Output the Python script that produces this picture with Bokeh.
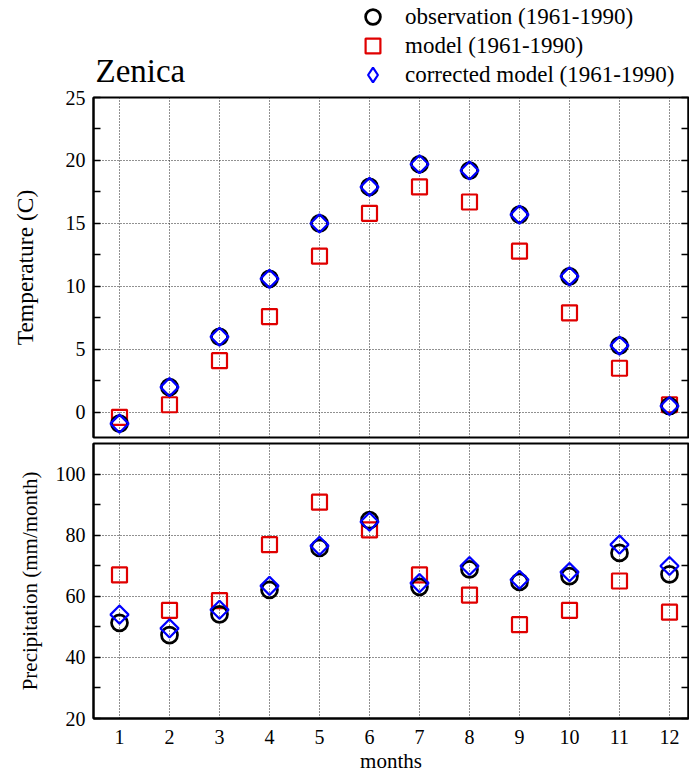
from bokeh.plotting import figure
from bokeh.layouts import column
from bokeh.models import (FixedTicker, LinearAxis, Legend, LegendItem, ColumnDataSource,
                          Range1d, Label, CustomJSTickFormatter)
from bokeh.embed import file_html
from bokeh.resources import INLINE
import numpy as np

# ---------------- data ----------------
months = [1, 2, 3, 4, 5, 6, 7, 8, 9, 10, 11, 12]
temp_obs = [-0.9, 2.0, 6.0, 10.6, 15.0, 17.9, 19.7, 19.2, 15.7, 10.8, 5.3, 0.5]
temp_model = [-0.4, 0.6, 4.1, 7.6, 12.4, 15.8, 17.9, 16.7, 12.8, 7.9, 3.5, 0.6]
temp_corr = [-0.9, 2.0, 6.0, 10.6, 15.0, 17.9, 19.7, 19.2, 15.7, 10.8, 5.3, 0.5]

prec_obs = [51.3, 47.3, 54.1, 62.1, 75.8, 84.9, 63.1, 68.8, 64.7, 66.6, 74.2, 67.2]
prec_model = [67.0, 55.4, 58.6, 76.9, 90.8, 81.7, 67.0, 60.4, 50.7, 55.4, 65.0, 54.8]
prec_corr = [54.0, 49.5, 55.6, 63.4, 76.5, 84.4, 64.3, 69.9, 65.4, 67.9, 76.9, 69.9]

temp_ticks = [0, 5, 10, 15, 20, 25]
temp_minor = [-2.5, 2.5, 7.5, 12.5, 17.5, 22.5]
prec_ticks = [20, 40, 60, 80, 100]
prec_minor = [30, 50, 70, 90]

labels = ["observation (1961-1990)", "model (1961-1990)", "corrected model (1961-1990)"]
station = "Zenica"

SERIF = "Liberation Serif"
RED = "#e00000"
BLUE = "#0000ff"
W = 689
HEAD_H = 95
OVERLAP = 10
BL, BR = 93, 1
XR = (0.48, 12.38)

MARK = dict(
    model=dict(marker="square", size=15, fill_color=None, line_color=RED, line_width=2.2),
    obs=dict(marker="circle", size=16, fill_color=None, line_color="black", line_width=2.7),
    corr=dict(marker="square", angle=np.pi / 4, size=12.8, fill_color=None,
              line_color=BLUE, line_width=2.2),
)
LEG_MARK = dict(
    obs=dict(marker="circle", fill_color=None, line_color="black", line_width=2.7),
    model=dict(marker="square", fill_color=None, line_color=RED, line_width=2.2),
    corr=dict(marker="diamond", fill_color=None, line_color=BLUE, line_width=2.2),
)


def style(p, yticks, yminor, show_x):
    p.outline_line_color = "black"
    p.outline_line_width = 2
    p.background_fill_color = "white"
    p.border_fill_color = "white"
    xt = FixedTicker(ticks=months, minor_ticks=[])
    yt = FixedTicker(ticks=yticks, minor_ticks=yminor)
    p.xaxis.ticker = xt
    p.yaxis.ticker = yt
    for g in (p.xgrid, p.ygrid):
        g.grid_line_color = "#222222"
        g.grid_line_dash = "1 2"
        g.grid_line_width = 1
    ax = p.yaxis[0]
    ax.major_tick_in = 7
    ax.major_tick_out = 0
    ax.minor_tick_in = 7
    ax.minor_tick_out = 0
    ax.major_tick_line_width = 1.5
    ax.minor_tick_line_width = 1.5
    ax.axis_line_color = "black"
    ax.axis_line_width = 2
    ax.major_label_text_font = SERIF
    ax.major_label_text_font_size = "20px"
    ax.major_label_text_color = "black"
    ax.major_label_standoff = 8
    ax.axis_label_text_font = SERIF
    ax.axis_label_text_font_style = "normal"
    ax.axis_label_text_color = "black"
    # mirrored right axis with inward ticks, no labels
    ra = LinearAxis(ticker=yt, formatter=CustomJSTickFormatter(code="return ''"),
                    major_label_standoff=0,
                    major_tick_in=7, major_tick_out=0, minor_tick_in=7, minor_tick_out=0,
                    major_tick_line_width=1.5, minor_tick_line_width=1.5,
                    axis_line_color="black", axis_line_width=2)
    p.add_layout(ra, "right")
    xa = p.xaxis[0]
    if show_x:
        xa.major_tick_in = 0
        xa.major_tick_out = 0
        xa.axis_line_color = "black"
        xa.axis_line_width = 2
        xa.major_label_text_font = SERIF
        xa.major_label_text_font_size = "20px"
        xa.major_label_text_color = "black"
        xa.major_label_standoff = 11
        xa.axis_label_text_font = SERIF
        xa.axis_label_text_font_style = "normal"
        xa.axis_label_text_font_size = "21px"
        xa.axis_label_text_color = "black"
        xa.axis_label_standoff = 2
    else:
        xa.visible = False


def draw(p, obs, model, corr):
    src = ColumnDataSource(dict(m=months, obs=obs, model=model, corr=corr))
    p.scatter("m", "model", source=src, **MARK["model"])
    p.scatter("m", "obs", source=src, **MARK["obs"])
    p.scatter("m", "corr", source=src, **MARK["corr"])


# ---------------- header: title + legend (frame aligned with panels below) ----------------
head = figure(width=W, height=HEAD_H, x_range=Range1d(BL, W - BR), y_range=Range1d(0, HEAD_H),
              output_backend="svg", toolbar_location=None,
              x_axis_location=None, y_axis_location=None,
              min_border_left=BL, min_border_right=BR, min_border_top=0, min_border_bottom=0)
head.outline_line_color = None
head.xgrid.visible = False
head.ygrid.visible = False
head.styles = {"margin-bottom": f"-{OVERLAP}px"}
# legend-only renderers (a single NaN point so the legend glyphs are drawn)
blank = ColumnDataSource(dict(x=[np.nan], y=[np.nan]))
GB = 37  # legend glyph box
for i, key in enumerate(["obs", "model", "corr"]):
    r = head.scatter("x", "y", source=blank, **LEG_MARK[key])
    leg = Legend(items=[LegendItem(label=labels[i], renderers=[r])],
                 location=(261, 60 - 29 * i), padding=0, margin=0, spacing=0,
                 glyph_width=GB, glyph_height=GB, label_height=GB, label_standoff=14,
                 label_text_font=SERIF, label_text_font_size="23px", label_text_color="black",
                 background_fill_alpha=0, border_line_alpha=0)
    head.add_layout(leg)
head.add_layout(Label(x=95, y=25, text=station, text_font=SERIF, text_font_size="33px",
                      text_color="black", text_baseline="alphabetic", text_align="left"))

# ---------------- top panel ----------------
top = figure(width=W, height=356, x_range=Range1d(*XR), y_range=Range1d(-2, 25),
             output_backend="svg", toolbar_location=None,
             min_border_left=BL, min_border_right=BR, min_border_top=12, min_border_bottom=4)
style(top, temp_ticks, temp_minor, show_x=False)
top.border_fill_color = None
top.yaxis[0].axis_label = "Temperature (C)"
top.yaxis[0].axis_label_text_font_size = "23.5px"
top.yaxis[0].axis_label_standoff = 25
draw(top, temp_obs, temp_model, temp_corr)

# ---------------- bottom panel ----------------
bot = figure(width=W, height=334, x_range=Range1d(*XR), y_range=Range1d(20, 110),
             output_backend="svg", toolbar_location=None,
             min_border_left=BL, min_border_right=BR, min_border_top=2, min_border_bottom=55)
style(bot, prec_ticks, prec_minor, show_x=True)
bot.yaxis[0].axis_label = "Precipitation (mm/month)"
bot.yaxis[0].axis_label_text_font_size = "21px"
bot.yaxis[0].axis_label_standoff = 11
bot.xaxis[0].axis_label = "months"
draw(bot, prec_obs, prec_model, prec_corr)

layout = column(head, top, bot, spacing=0)
open("out.html", "w").write(file_html(layout, INLINE))
